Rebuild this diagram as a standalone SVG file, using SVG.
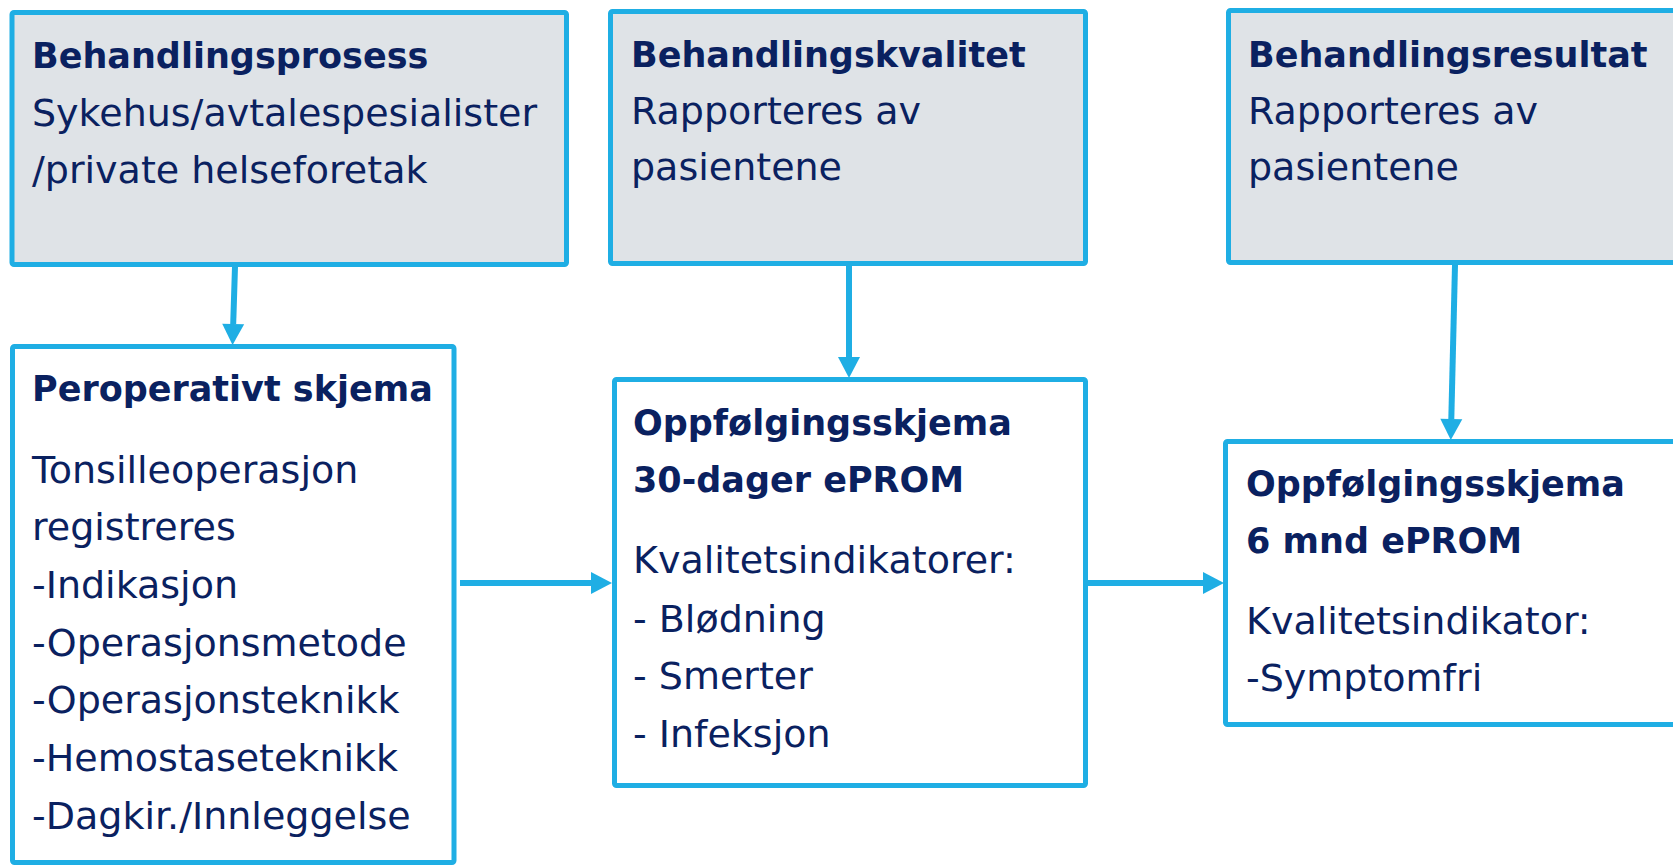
<svg xmlns="http://www.w3.org/2000/svg" width="1673" height="865" viewBox="0 0 1673 865">
<defs>
<style>
.box{stroke:#1FAEE4;stroke-width:5;}
.grey{fill:#DFE3E7;}
.white{fill:#FFFFFF;}
text{font-family:"DejaVu Sans","Liberation Sans",sans-serif;fill:#0A2160;}
.t{font-weight:bold;font-size:35px;}
.r{font-size:38px;}
.c{fill:none;stroke:#1FAEE4;stroke-width:6;}
</style>
<marker id="ah" markerUnits="userSpaceOnUse" markerWidth="22" markerHeight="22" refX="0" refY="11" orient="auto" overflow="visible">
<path d="M0,0 L21,11 L0,22 Z" fill="#1FAEE4"/>
</marker>
</defs>
<rect width="1673" height="865" fill="#FFFFFF"/>
<g id="connectors">
<path class="c" d="M235,267 L233.2,324" marker-end="url(#ah)"/>
<path class="c" d="M849,266 L849,357" marker-end="url(#ah)"/>
<path class="c" d="M1455,265 L1451.3,419" marker-end="url(#ah)"/>
<path class="c" d="M460,583 L591,583" marker-end="url(#ah)"/>
<path class="c" d="M1088,583 L1203,583" marker-end="url(#ah)"/>
</g>
<g id="behandlingsprosess">
<rect class="box grey" x="12" y="12.5" width="554.5" height="252" rx="2"/>
<text class="t" x="32" y="68">Behandlingsprosess</text>
<text class="r" x="32" y="126">Sykehus/avtalespesialister</text>
<text class="r" x="32" y="183">/private helseforetak</text>
</g>
<g id="behandlingskvalitet">
<rect class="box grey" x="610.5" y="11.5" width="475" height="252" rx="2"/>
<text class="t" x="631" y="67">Behandlingskvalitet</text>
<text class="r" x="631" y="124">Rapporteres av</text>
<text class="r" x="631" y="180">pasientene</text>
</g>
<g id="behandlingsresultat">
<rect class="box grey" x="1228.5" y="10.5" width="460" height="252" rx="2"/>
<text class="t" x="1248" y="67">Behandlingsresultat</text>
<text class="r" x="1248" y="124">Rapporteres av</text>
<text class="r" x="1248" y="180">pasientene</text>
</g>
<g id="peroperativt">
<rect class="box white" x="12.5" y="346.5" width="441.5" height="516" rx="2"/>
<text class="t" x="32" y="401">Peroperativt skjema</text>
<text class="r" x="32" y="483">Tonsilleoperasjon</text>
<text class="r" x="32" y="540">registreres</text>
<text class="r" x="32" y="598">-Indikasjon</text>
<text class="r" x="32" y="656">-Operasjonsmetode</text>
<text class="r" x="32" y="713">-Operasjonsteknikk</text>
<text class="r" x="32" y="771">-Hemostaseteknikk</text>
<text class="r" x="32" y="829">-Dagkir./Innleggelse</text>
</g>
<g id="oppfolging30">
<rect class="box white" x="614.5" y="379.5" width="471" height="406" rx="2"/>
<text class="t" x="633" y="435">Oppfølgingsskjema</text>
<text class="t" x="633" y="492">30-dager ePROM</text>
<text class="r" x="633" y="573">Kvalitetsindikatorer:</text>
<text class="r" x="633" y="632">- Blødning</text>
<text class="r" x="633" y="689">- Smerter</text>
<text class="r" x="633" y="747">- Infeksjon</text>
</g>
<g id="oppfolging6">
<rect class="box white" x="1225.5" y="441.5" width="460" height="283" rx="2"/>
<text class="t" x="1246" y="496">Oppfølgingsskjema</text>
<text class="t" x="1246" y="553">6 mnd ePROM</text>
<text class="r" x="1246" y="634">Kvalitetsindikator:</text>
<text class="r" x="1246" y="691">-Symptomfri</text>
</g>
</svg>
